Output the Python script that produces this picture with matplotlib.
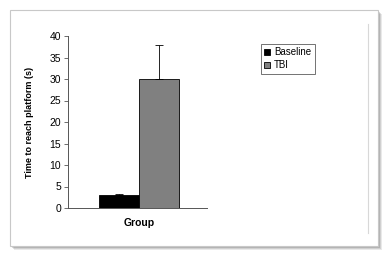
import matplotlib
matplotlib.use("Agg")
import matplotlib.pyplot as plt
from matplotlib.patches import Rectangle
from matplotlib.lines import Line2D

categories = ["Group"]
series = ["Baseline", "TBI"]
values = [3.0, 30.0]
errors = [0.3, 8.0]
colors = ["#000000", "#808080"]
yticks = [0, 5, 10, 15, 20, 25, 30, 35, 40]

W, H = 387, 263
fig = plt.figure(figsize=(W / 100, H / 100), dpi=100)
fig.patch.set_facecolor("white")
plt.rcParams['font.family'] = ['Liberation Sans', 'DejaVu Sans']

def px(x0, y0, x1, y1):
    return (x0 / W, 1 - y1 / H, (x1 - x0) / W, (y1 - y0) / H)

# outer frame with soft shadow
for i, a in enumerate([0.12, 0.16, 0.22, 0.30]):
    off = 4 - i
    l, b, w, h = px(10 + off, 10 + off, 378 + off, 246 + off)
    fig.add_artist(Rectangle((l, b), w, h, transform=fig.transFigure,
                             facecolor="#505050", alpha=a, edgecolor="none", zorder=0))
l, b, w, h = px(10, 10, 378, 246)
fig.add_artist(Rectangle((l, b), w, h, transform=fig.transFigure,
                         facecolor="white", edgecolor="#c8c8c8", linewidth=0.8, zorder=1))
# inner chart-area border (right side)
fig.add_artist(Line2D([368 / W, 368 / W], [1 - 233 / H, 1 - 24 / H], transform=fig.transFigure,
                      color="#d8d8d8", linewidth=0.8, zorder=2))

ax = fig.add_axes(px(68, 36, 207, 208))
ax.set_zorder(3)
ax.patch.set_alpha(0)
width = 1.0
for i, (s, v, e, c) in enumerate(zip(series, values, errors, colors)):
    xpos = (i - 0.5) * width
    ax.bar(xpos, v, width=width, color=c, edgecolor="black", linewidth=0.6, label=s)
    ax.errorbar(xpos, v, yerr=[[0], [e]], ecolor="black", elinewidth=0.6,
                capsize=3, capthick=0.6, fmt="none")

ax.set_xlim(-1.78, 1.70)
ax.set_ylim(0, 40)
ax.set_yticks(yticks)
ax.set_yticklabels([str(t) for t in yticks], fontsize=7.5)
ax.set_xticks([0])
ax.set_xticklabels(categories, fontsize=7.5, fontweight="bold")
ax.tick_params(axis="x", length=0, pad=7)
ax.tick_params(axis="y", length=3, width=0.6, pad=2, color="#555555")
for s in ["top", "right"]:
    ax.spines[s].set_visible(False)
for s in ["left", "bottom"]:
    ax.spines[s].set_color("#555555")
    ax.spines[s].set_linewidth(0.7)

fig.text(30 / W, 1 - 122 / H, "Time to reach platform (s)", rotation=90,
         ha="center", va="center", fontsize=6.5, fontweight="bold")

leg = ax.legend(loc="upper left", bbox_to_anchor=(261 / W, 1 - 44 / H),
                bbox_transform=fig.transFigure, fontsize=7, frameon=True,
                fancybox=False, edgecolor="#333333", handlelength=0.6, handleheight=0.6,
                handletextpad=0.4, borderpad=0.35, labelspacing=0.3, borderaxespad=0)
leg.get_frame().set_linewidth(0.6)

fig.savefig("out.png", dpi=100)
